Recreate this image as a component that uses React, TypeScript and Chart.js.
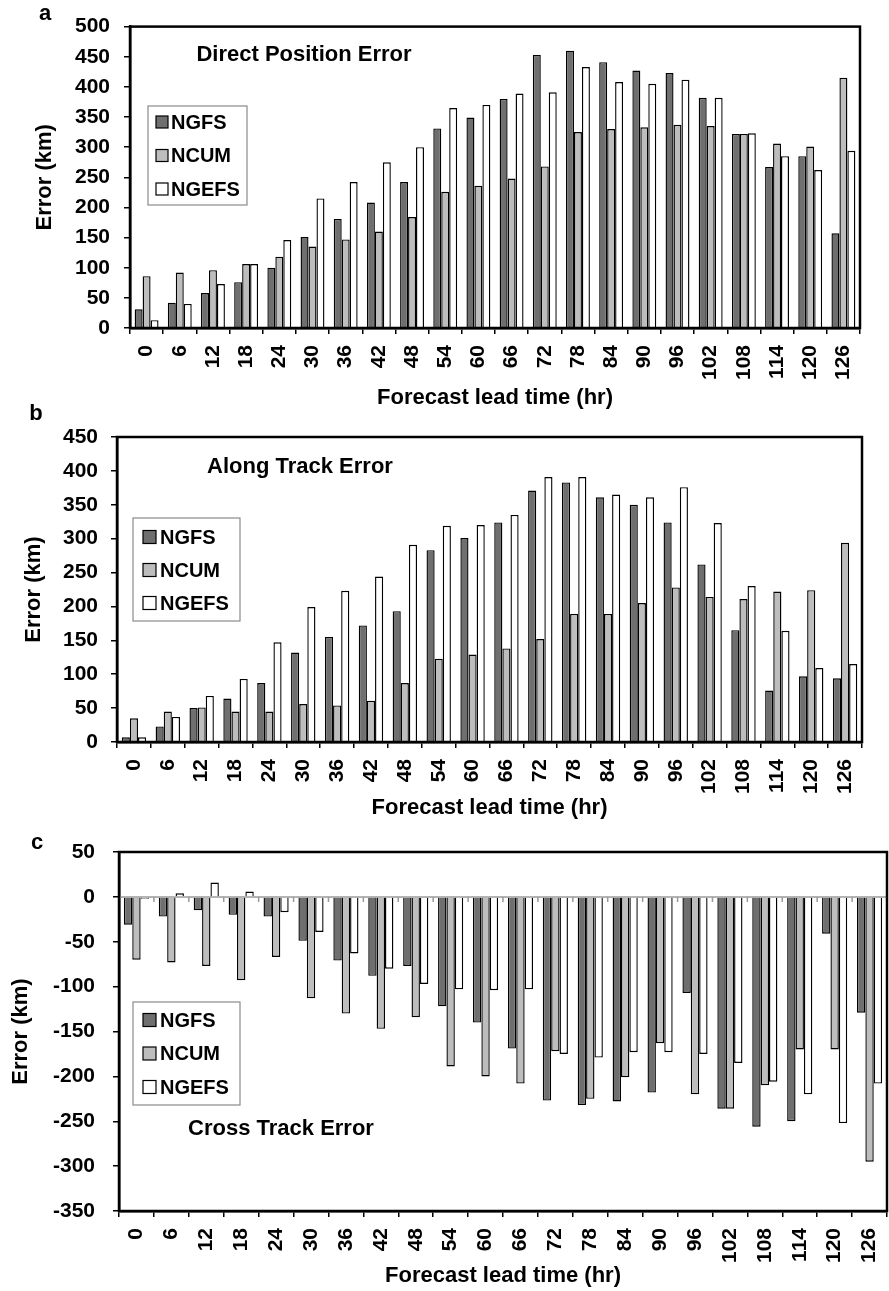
import React, { useEffect, useRef } from 'react';
import { Chart, registerables } from 'chart.js';

Chart.register(...registerables);

const FONT = "'Liberation Sans', Arial, Helvetica, sans-serif";
Chart.defaults.font.family = FONT;
Chart.defaults.color = '#000';

// ---- data ----
const leadTimes = ['0', '6', '12', '18', '24', '30', '36', '42', '48', '54', '60', '66', '72', '78', '84', '90', '96', '102', '108', '114', '120', '126'];
const seriesNames = ['NGFS', 'NCUM', 'NGEFS'];

// (a) Direct Position Error
const dpeNGFS = [31, 42, 58, 76, 100, 151, 181, 208, 242, 331, 349, 380, 453, 460, 441, 427, 423, 382, 322, 267, 285, 157];
const dpeNCUM = [86, 92, 96, 106, 118, 135, 147, 160, 184, 226, 236, 248, 268, 325, 330, 333, 337, 335, 322, 306, 301, 415];
const dpeNGEFS = [13, 40, 73, 106, 146, 215, 242, 275, 300, 365, 370, 389, 391, 433, 408, 405, 412, 382, 323, 285, 262, 294];

// (b) Along Track Error
const ateNGFS = [7, 23, 50, 64, 87, 132, 155, 172, 193, 283, 301, 324, 371, 383, 361, 350, 324, 262, 165, 76, 97, 94];
const ateNCUM = [35, 45, 51, 45, 45, 56, 54, 61, 87, 123, 129, 138, 152, 189, 189, 205, 228, 214, 211, 222, 224, 294];
const ateNGEFS = [7, 37, 68, 93, 147, 199, 223, 244, 291, 319, 320, 335, 391, 391, 365, 361, 376, 323, 230, 164, 109, 115];

// (c) Cross Track Error
const cteNGFS = [-31, -22, -15, -20, -22, -49, -71, -88, -77, -122, -140, -169, -227, -232, -228, -218, -107, -236, -256, -250, -41, -129];
const cteNCUM = [-70, -73, -77, -93, -67, -113, -130, -147, -134, -189, -200, -208, -172, -225, -201, -163, -220, -236, -210, -170, -170, -295];
const cteNGEFS = [-2, 4, 16, 6, -17, -39, -63, -80, -97, -103, -104, -103, -175, -179, -173, -173, -175, -185, -206, -220, -252, -208];

const panelTitles = ['Direct Position Error', 'Along Track Error', 'Cross Track Error'];
const panelLetters = ['a', 'b', 'c'];
const xTitle = 'Forecast lead time (hr)';
const yTitle = 'Error (km)';

// ---- styles ----
const seriesColors = ['#6f6f6f', '#bdbdbd', '#ffffff'];

type Legend = { x: number; y: number; w: number; h: number; row0: number; gap: number; sqX: number; sq: number; textX: number };
type Spec = {
  top: number; height: number; left: number; padRight: number; padTop: number; xHeight: number;
  yMin: number; yMax: number; yTickPad: number; yTitlePad: number;
  data: number[][]; title: string; titlePos: [number, number]; letter: string; letterPos: [number, number];
  legend: Legend; zeroLine: boolean;
};

const specs: Spec[] = [
  {
    top: 0, height: 411, left: 130, padRight: 29, padTop: 26, xHeight: 83,
    yMin: 0, yMax: 500, yTickPad: 14, yTitlePad: 32,
    data: [dpeNGFS, dpeNCUM, dpeNGEFS], title: panelTitles[0], titlePos: [304, 55],
    letter: panelLetters[0], letterPos: [45, 14],
    legend: { x: 148, y: 106, w: 99, h: 99, row0: 16, gap: 33.5, sqX: 8, sq: 12, textX: 23 },
    zeroLine: false,
  },
  {
    top: 400, height: 421, left: 117, padRight: 27, padTop: 37, xHeight: 79,
    yMin: 0, yMax: 450, yTickPad: 13, yTitlePad: 21,
    data: [ateNGFS, ateNCUM, ateNGEFS], title: panelTitles[1], titlePos: [300, 67],
    letter: panelLetters[1], letterPos: [36, 14],
    legend: { x: 133, y: 118, w: 107, h: 103, row0: 19, gap: 33, sqX: 10, sq: 13, textX: 27 },
    zeroLine: false,
  },
  {
    top: 821, height: 468, left: 119, padRight: 2, padTop: 31, xHeight: 78,
    yMin: -350, yMax: 50, yTickPad: 18, yTitlePad: 8,
    data: [cteNGFS, cteNCUM, cteNGEFS], title: panelTitles[2], titlePos: [281, 308],
    letter: panelLetters[2], letterPos: [37, 22],
    legend: { x: 133, y: 181, w: 107, h: 103, row0: 18, gap: 33.5, sqX: 10, sq: 13, textX: 27 },
    zeroLine: true,
  },
];

const decorPlugin = {
  id: 'decor',
  beforeDatasetsDraw(chart: any, _args: any, opts: any) {
    if (!opts.zeroLine) return;
    const { ctx, chartArea: ca } = chart;
    const y0 = chart.scales.y.getPixelForValue(0);
    const n = chart.scales.x.ticks.length;
    ctx.save();
    ctx.strokeStyle = '#9a9a9a';
    ctx.lineWidth = 1.5;
    ctx.beginPath();
    ctx.moveTo(ca.left, y0);
    ctx.lineTo(ca.right, y0);
    for (let i = 0; i <= n; i++) {
      const x = ca.left + (i * (ca.right - ca.left)) / n;
      ctx.moveTo(x, y0);
      ctx.lineTo(x, y0 + 5);
    }
    ctx.stroke();
    ctx.restore();
  },
  afterDatasetsDraw(chart: any, _args: any, opts: any) {
    const { ctx, chartArea: ca } = chart;
    ctx.save();
    // frame
    ctx.strokeStyle = '#000';
    ctx.lineWidth = 2.5;
    ctx.strokeRect(ca.left, ca.top, ca.right - ca.left, ca.bottom - ca.top);
    // inner title
    ctx.fillStyle = '#000';
    ctx.font = `bold 22px ${FONT}`;
    ctx.textAlign = 'center';
    ctx.textBaseline = 'middle';
    ctx.fillText(opts.title, opts.titlePos[0], opts.titlePos[1]);
    // panel letter
    ctx.font = `bold 22px ${FONT}`;
    ctx.fillText(opts.letter, opts.letterPos[0], opts.letterPos[1]);
    // legend
    const lg: Legend = opts.legend;
    ctx.strokeStyle = '#8a8a8a';
    ctx.lineWidth = 1.2;
    ctx.fillStyle = '#fff';
    ctx.fillRect(lg.x, lg.y, lg.w, lg.h);
    ctx.strokeRect(lg.x, lg.y, lg.w, lg.h);
    ctx.font = `bold 20px ${FONT}`;
    ctx.textAlign = 'left';
    chart.data.datasets.forEach((ds: any, i: number) => {
      const cy = lg.y + lg.row0 + i * lg.gap;
      ctx.fillStyle = ds.backgroundColor;
      ctx.fillRect(lg.x + lg.sqX, cy - lg.sq / 2, lg.sq, lg.sq);
      ctx.strokeStyle = '#000';
      ctx.lineWidth = 1.2;
      ctx.strokeRect(lg.x + lg.sqX, cy - lg.sq / 2, lg.sq, lg.sq);
      ctx.fillStyle = '#000';
      ctx.fillText(ds.label, lg.x + lg.textX, cy + 1);
    });
    ctx.restore();
  },
};

function Panel({ spec }: { spec: Spec }) {
  const ref = useRef<HTMLCanvasElement>(null);
  useEffect(() => {
    const canvas = ref.current;
    if (!canvas) return;
    const chart = new Chart(canvas, {
      type: 'bar',
      data: {
        labels: leadTimes,
        datasets: spec.data.map((d, i) => ({
          label: seriesNames[i],
          data: d,
          backgroundColor: seriesColors[i],
          borderColor: '#000',
          borderWidth: 1.4,
          categoryPercentage: 0.72,
          barPercentage: 1,
        })),
      },
      options: {
        responsive: false,
        animation: false,
        events: [],
        layout: { padding: { left: 0, right: spec.padRight, top: spec.padTop, bottom: 0 } },
        plugins: {
          legend: { display: false },
          tooltip: { enabled: false },
          decor: {
            title: spec.title,
            titlePos: spec.titlePos,
            letter: spec.letter,
            letterPos: spec.letterPos,
            legend: spec.legend,
            zeroLine: spec.zeroLine,
          },
        } as any,
        scales: {
          x: {
            offset: true,
            grid: { display: true, offset: true, drawOnChartArea: false, drawTicks: true, tickLength: 6, color: '#000', lineWidth: 1.5 },
            border: { display: true, color: '#000', width: 2.5 },
            ticks: { autoSkip: false, minRotation: 90, maxRotation: 90, padding: 11, color: '#000', font: { size: 21, weight: 'bold' } },
            title: { display: true, text: xTitle, color: '#000', font: { size: 22, weight: 'bold' }, padding: { top: 0, bottom: 0 } },
            afterFit: (s: any) => {
              s.height = spec.xHeight;
              s.paddingLeft = 0;
              s.paddingRight = 0;
            },
          },
          y: {
            min: spec.yMin,
            max: spec.yMax,
            grid: { display: true, drawOnChartArea: false, drawTicks: true, tickLength: 6, color: '#000', lineWidth: 1.5 },
            border: { display: true, color: '#000', width: 2.5 },
            ticks: { stepSize: 50, padding: spec.yTickPad, color: '#000', font: { size: 21, weight: 'bold' } },
            title: { display: true, text: yTitle, color: '#000', font: { size: 22, weight: 'bold' }, padding: { top: spec.yTitlePad, bottom: 0 } },
            afterFit: (s: any) => {
              s.width = spec.left;
            },
          },
        },
      } as any,
      plugins: [decorPlugin],
    });
    return () => chart.destroy();
  }, [spec]);
  return (
    <canvas
      ref={ref}
      width={889}
      height={spec.height}
      style={{ position: 'absolute', left: 0, top: spec.top, width: '889px', height: `${spec.height}px`, display: 'block' }}
    />
  );
}

export default function App() {
  return (
    <div style={{ position: 'absolute', left: 0, top: 0, width: 889, height: 1291, background: '#fff' }}>
      {specs.map((s, i) => (
        <Panel key={i} spec={s} />
      ))}
    </div>
  );
}
